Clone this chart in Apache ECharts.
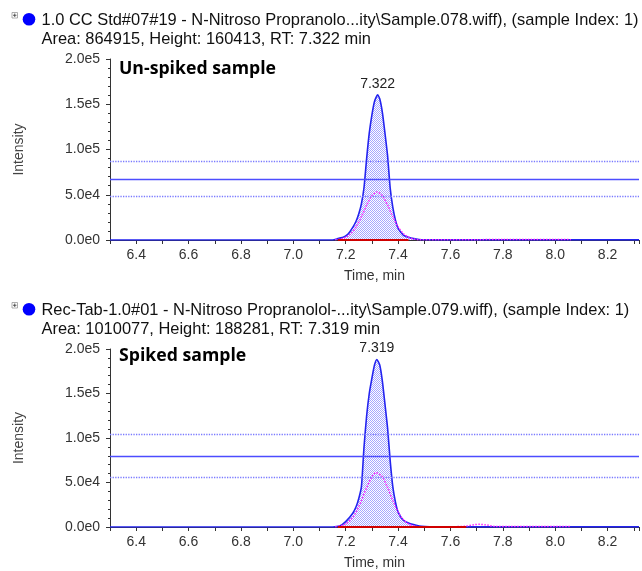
<!DOCTYPE html>
<html><head><meta charset="utf-8">
<script src="https://cdn.jsdelivr.net/npm/echarts@6/dist/echarts.min.js"></script>
<style>html,body{margin:0;padding:0;background:#fff}#c{width:642px;height:571px}</style>
</head><body><div id="c"></div>
<script>
// ---------- data ----------
const xTickLabels = ['6.4','6.6','6.8','7.0','7.2','7.4','7.6','7.8','8.0','8.2'];
const yTickLabels = ['0.0e0','5.0e4','1.0e5','1.5e5','2.0e5'];
const headerUnspiked = ['1.0 CC Std#07#19 - N-Nitroso Propranolo...ity\\Sample.078.wiff), (sample Index: 1)',
                        'Area: 864915, Height: 160413, RT: 7.322 min'];
const headerSpiked = ['Rec-Tab-1.0#01 - N-Nitroso Propranolol-...ity\\Sample.079.wiff), (sample Index: 1)',
                      'Area: 1010077, Height: 188281, RT: 7.319 min'];
const panelLabels = ['Un-spiked sample', 'Spiked sample'];
const peakRT = [7.322, 7.319];
const peakHeight = [160413, 188281];

const unspikedTime = [6.30,7.10,7.15,7.17,7.195,7.21,7.227,7.24,7.25,7.26,7.27,7.28,7.29,7.30,7.31,7.322,7.33,7.34,7.35,7.36,7.37,7.38,7.39,7.40,7.42,7.44,7.46,7.48,7.50,7.60,8.32];
const unspikedIntensity = [0,0,0,1500,3700,7000,14000,21000,29000,40000,58000,90000,118000,138000,153000,160413,156000,141000,118000,93000,57000,36000,22000,13000,5500,3000,1500,600,200,150,100];
const unspikedIonTime = [7.16,7.18,7.20,7.22,7.24,7.26,7.28,7.30,7.32,7.34,7.36,7.38,7.40,7.42,7.44,7.46,7.48,7.55,7.70,7.80,7.90,8.00,8.06];
const unspikedIonIntensity = [300,1100,3000,7200,14700,25800,38500,48900,53000,48900,38500,25800,14700,7200,3000,1100,300,400,400,500,600,500,400];
const unspikedLevels = [87300, 67400, 47800];
const unspikedBaseline = [7.17, 7.44];

const spikedTime = [6.30,7.10,7.15,7.177,7.20,7.227,7.24,7.25,7.26,7.27,7.28,7.29,7.30,7.31,7.319,7.33,7.34,7.35,7.36,7.37,7.38,7.39,7.40,7.418,7.44,7.469,7.49,7.52,7.60,8.32];
const spikedIntensity = [0,0,0,1000,6000,15500,23000,32000,45000,90000,125000,150000,167000,182000,188281,182000,164000,138000,111000,74000,45000,28000,17000,8100,4500,2000,700,200,150,100];
const spikedIonTime = [7.16,7.18,7.20,7.22,7.24,7.26,7.28,7.30,7.315,7.34,7.36,7.38,7.40,7.42,7.44,7.46,7.48,7.60,7.66,7.69,7.71,7.74,7.77,7.83,7.95,8.06];
const spikedIonIntensity = [350,1300,3500,8300,16900,29700,44300,56300,61000,56300,44300,29700,16900,8300,3500,1300,350,300,1000,2600,3000,2200,600,500,600,500];
const spikedLevels = [103700, 79200, 55600];
const spikedBaseline = [7.17, 7.66];

// ---------- helpers ----------
const zip = (xs, ys) => xs.map((x, i) => [x, ys[i]]);
const pc = document.createElement('canvas'); pc.width = 2; pc.height = 2;
const pg = pc.getContext('2d'); pg.fillStyle = '#a6a6ff'; pg.fillRect(0,0,1,1); pg.fillRect(1,1,1,1);

const mctx = document.createElement('canvas').getContext('2d');
function measure(text, font) { mctx.font = font; return mctx.measureText(text).width; }
const HFONT = '17px "Liberation Sans"';
const headScale = 597 / measure(headerUnspiked[0], HFONT);
const BFONT = 'bold 18px "Open Sans"';
const boldScale = 157 / measure(panelLabels[0], BFONT);

const grids = [{left:110, right:2, top:59, height:181}, {left:110, right:2, top:349, height:180}];
const panels = [
  {t: unspikedTime, v: unspikedIntensity, it: unspikedIonTime, iv: unspikedIonIntensity, lv: unspikedLevels, bl: unspikedBaseline},
  {t: spikedTime, v: spikedIntensity, it: spikedIonTime, iv: spikedIonIntensity, lv: spikedLevels, bl: spikedBaseline}
];

const xAxes = [], yAxes = [], series = [];
panels.forEach((p, i) => {
  xAxes.push({
    gridIndex: i, type: 'value', min: 6.3, max: 8.32, interval: 0.1,
    axisLine: {lineStyle: {color: '#333'}},
    axisTick: {length: 4, lineStyle: {color: '#333'}},
    axisLabel: {fontFamily: 'Liberation Sans', fontSize: 14, color: '#333', margin: 8,
      formatter: v => { const s = v.toFixed(1); return xTickLabels.includes(s) ? s : ''; }},
    splitLine: {show: false},
    name: 'Time, min', nameLocation: 'middle', nameGap: 29,
    nameTextStyle: {fontFamily: 'Liberation Sans', fontSize: 14, color: '#333'}
  });
  yAxes.push({
    gridIndex: i, type: 'value', min: 0, max: 200000, interval: 50000,
    axisLine: {show: true, lineStyle: {color: '#333'}},
    axisTick: {show: true, length: 4, lineStyle: {color: '#333'}},
    minorTick: {show: true, splitNumber: 5, length: 2, lineStyle: {color: '#333'}},
    axisLabel: {fontFamily: 'Liberation Sans', fontSize: 14, color: '#333', margin: 10,
      formatter: v => yTickLabels[Math.round(v / 50000)]},
    splitLine: {show: false},
    name: 'Intensity', nameLocation: 'middle', nameGap: 84, nameRotate: 90,
    nameTextStyle: {fontFamily: 'Liberation Sans', fontSize: 14, color: '#444'}
  });
  series.push({
    type: 'line', xAxisIndex: i, yAxisIndex: i, data: zip(p.t, p.v),
    showSymbol: false, smooth: 0.2, z: 3,
    itemStyle: {color: '#2323f0'},
    lineStyle: {color: '#2323f0', width: 1.6},
    areaStyle: {color: {image: pc, repeat: 'repeat'}, opacity: 1},
    markLine: {
      silent: true, symbol: 'none', label: {show: false}, animation: false,
      lineStyle: {color: '#5a5aff', width: 1.2},
      data: p.lv.map((y, k) => ({yAxis: y, lineStyle: k === 1
        ? {color: '#4d4dff', width: 1.3, type: 'solid', opacity: 1}
        : {color: '#7a7aff', width: 1.3, type: 'dotted', opacity: 1}}))
    },
    markPoint: {
      symbol: 'circle', symbolSize: 0, silent: true, animation: false,
      itemStyle: {color: 'transparent'},
      data: [{coord: [peakRT[i], peakHeight[i]]}],
      label: {show: true, position: 'top', distance: 4, color: '#222',
        fontFamily: 'Liberation Sans', fontSize: 14, formatter: () => peakRT[i].toFixed(3)}
    }
  });
  series.push({
    type: 'line', xAxisIndex: i, yAxisIndex: i, data: zip(p.it, p.iv),
    showSymbol: false, smooth: 0.3, z: 4,
    itemStyle: {color: '#ff22ff'},
    lineStyle: {color: '#ff22ff', width: 1.5, type: 'dotted'}
  });
  series.push({
    type: 'line', xAxisIndex: i, yAxisIndex: i, data: p.bl.map(x => [x, 0]),
    showSymbol: false, z: 5,
    itemStyle: {color: '#d00000'},
    lineStyle: {color: '#d00000', width: 2}
  });
});

const graphics = [];
[[headerUnspiked, 0], [headerSpiked, 290]].forEach(([h, dy], i) => {
  graphics.push({type: 'rect', shape: {x: 12, y: 12.5 + dy, width: 5.5, height: 5.5},
    style: {fill: '#fff', stroke: '#999', lineWidth: 0.8}});
  graphics.push({type: 'line', shape: {x1: 13, y1: 15.25 + dy, x2: 16.5, y2: 15.25 + dy}, style: {stroke: '#333', lineWidth: 0.8}});
  graphics.push({type: 'line', shape: {x1: 14.75, y1: 13.5 + dy, x2: 14.75, y2: 17 + dy}, style: {stroke: '#333', lineWidth: 0.8}});
  graphics.push({type: 'circle', shape: {cx: 29, cy: 19.2 + dy, r: 6.3}, style: {fill: '#0000ff'}});
  graphics.push({type: 'text', x: 41.5, y: 20 + dy, scaleX: headScale,
    style: {text: h[0], font: HFONT, fill: '#111', verticalAlign: 'middle'}});
  graphics.push({type: 'text', x: 41.5, y: 39 + dy, scaleX: headScale,
    style: {text: h[1], font: HFONT, fill: '#111', verticalAlign: 'middle'}});
});
graphics.push({type: 'text', x: 119, y: 68.5, scaleX: boldScale,
  style: {text: panelLabels[0], font: BFONT, fill: '#000', verticalAlign: 'middle'}});
graphics.push({type: 'text', x: 119, y: 355.5, scaleX: boldScale,
  style: {text: panelLabels[1], font: BFONT, fill: '#000', verticalAlign: 'middle'}});

const chart = echarts.init(document.getElementById('c'), null, {renderer: 'canvas'});
chart.setOption({
  animation: false,
  backgroundColor: '#fff',
  grid: grids,
  xAxis: xAxes,
  yAxis: yAxes,
  series: series,
  graphic: graphics
});
</script>
</body></html>
